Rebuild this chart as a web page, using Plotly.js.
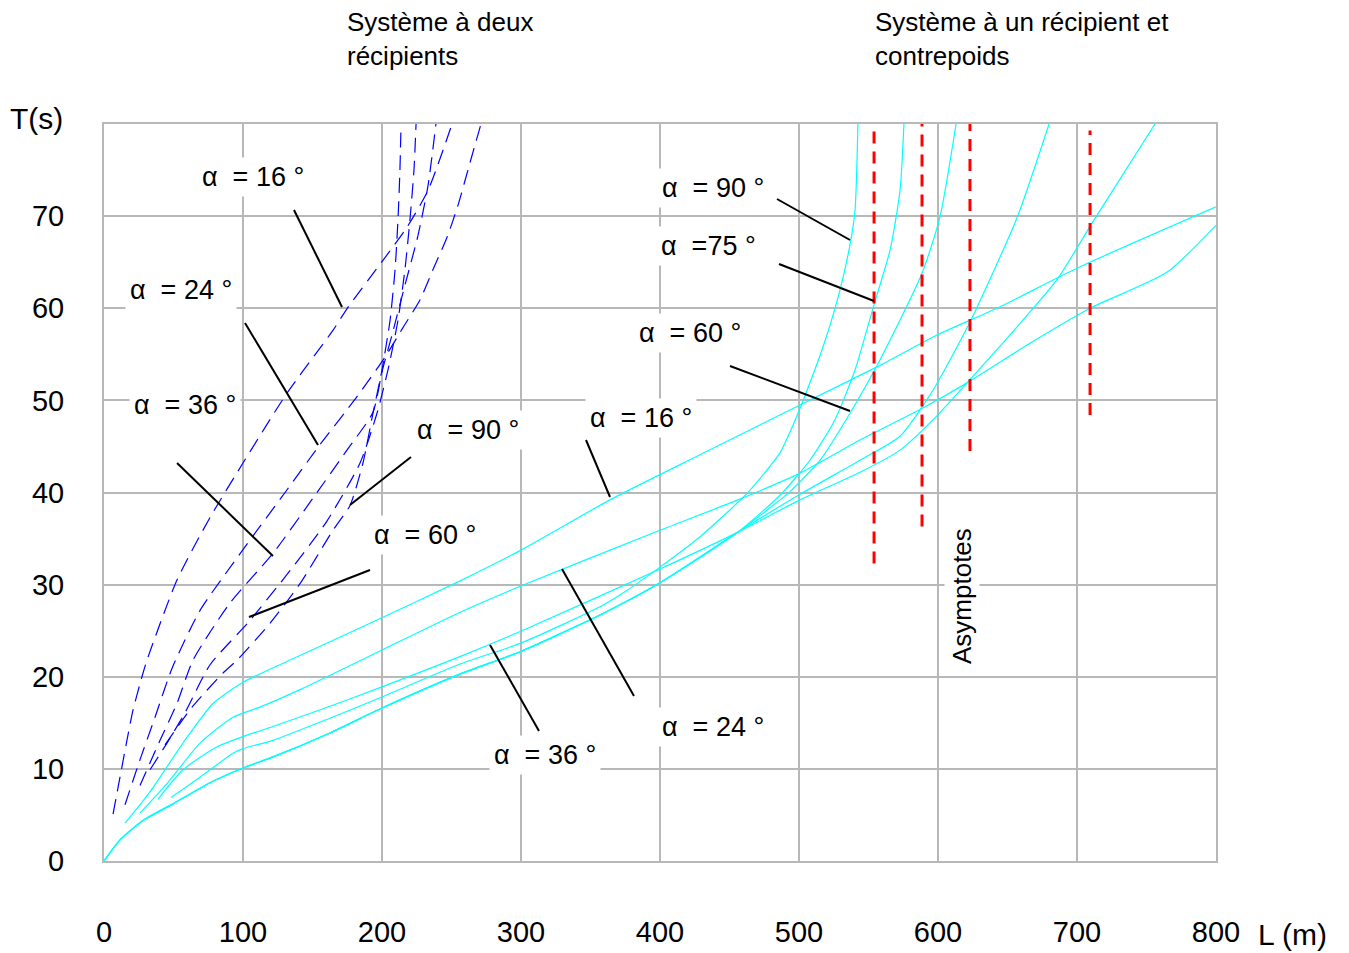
<!DOCTYPE html>
<html><head><meta charset="utf-8">
<script src="https://cdn.plot.ly/plotly-3.0.1.min.js"></script>
<style>body{margin:0;background:#fff}#chart{width:1349px;height:953px}</style>
</head><body><div id="chart"></div>
<script>
// ---------------- DATA ----------------
const xTicks = [0,100,200,300,400,500,600,700,800];
const xTickLabels = ['0','100','200','300','400','500','600','700','800'];
const yTicks = [0,10,20,30,40,50,60,70];
const yTickLabels = ['0','10','20','30','40','50','60','70'];

// Système à deux récipients (blue dashed), L (m) and T (s)
const deux16L = [6.5,11.5,16.5,20.9,27.3,30.9,52.5,76.3,100,131.7,164.7,175.5,200.7,218,233.1,250.4];
const deux16T = [5.1,9.1,13.1,16.4,20.0,21.8,30.5,37.3,43.2,50.8,57.6,60.1,65.2,68.8,72.8,80];
const deux24L = [15.1,25.9,36.7,48.9,69.1,100,131.7,155.4,182,202.2,215.1,227.3,236.7,246.8,254.7,263.3,271.2];
const deux24T = [6.1,11.0,15.6,20.9,27.2,33.8,40.3,45.2,50.4,54.7,57.9,60.9,64.2,67.7,71.2,75.8,80];
const deux36L = [25.9,40.3,52.5,64.0,90.6,121.6,150.4,174.8,193.5,200,207.2,216.5,225.9,233.1,238.8];
const deux36T = [8.2,13.1,17.1,21.8,28.0,33.4,39.4,44.6,48.7,53.1,57.1,62.5,67.9,73.3,80];
const deux60L = [33.1,45.3,58.3,76.3,104.3,131.7,160.4,184.2,196.4,204.3,211.5,216.5,220.1,223,224.5];
const deux60T = [9.9,12.8,16.1,21.3,26.0,31.1,36.9,43.2,48.6,53.3,58.7,64.2,69.6,75.0,80];
const deux90L = [43.9,63.3,85.6,95.7,119.4,141,164.7,177,186.3,193.5,200,205.8,209.4,211.5,212.9,213.7];
const deux90T = [12.6,16.7,20.4,21.8,25.8,30.1,35.9,38.6,43.2,48.6,53.3,58.7,64.2,69.6,75.0,80];

// Système à un récipient et contrepoids (cyan), L (m) and T (s)
const un16L = [15.1,33.1,56.8,78.4,100,141,200,254.7,300.7,364,428.8,500.7,558.3,599.3,642.4,702.2,800];
const un16T = [4.1,7.5,12.8,17.1,19.4,22.3,26.4,30.3,33.8,39.2,44.1,49.5,53.8,57.1,60.0,64.5,71.0];
const un24L = [25.9,45.3,69.1,92.8,112.2,141,200,254.7,300.7,400,456.1,500.7,543.9,587.1,620.9,666.2,709.4,764.7,800];
const un24T = [5.2,8.4,12.8,15.6,16.7,18.6,22.9,26.9,29.9,35.9,39.2,42.1,45.7,49.0,51.9,56.2,60.0,63.9,69.0];
const un36L = [38.8,56.8,81.3,100,121.6,162.6,200,254.7,300.7,400,456.1,500.7,543.9,572.7,597.8,620.9,651.8,685.6,711.5,756.1];
const un36T = [6.7,9.9,12.4,13.5,14.6,16.8,18.9,22.1,25.0,31.7,35.7,39.2,42.2,44.6,48.1,51.9,57.1,63.1,69.4,80];
const un45L = [0,11.5,28.1,49.6,76.3,100,121.6,162.6,200,254.7,300.7,356.8,400,456.1,500.7,543.9,572.7,596.4,623,656.8,679.9];
const un45T = [0,2.3,4.4,6.2,8.5,10.1,11.3,13.9,16.6,20.2,22.8,26.7,30.2,35.7,39.8,43.5,46.1,51.1,58.5,69.8,80];
const un60L = [0,11.5,28.1,49.6,76.3,100,121.6,162.6,200,254.7,300.7,356.8,400,456.1,493.5,515.1,536.7,558.3,588.5,601.4,613];
const un60T = [0,2.3,4.4,6.2,8.5,10.1,11.3,13.9,16.6,20.2,22.8,26.7,30.2,35.7,40.1,43.5,48.6,54.4,63.8,69.9,80];
const un75L = [0,11.5,28.1,49.6,76.3,100,121.6,162.6,200,254.7,300.7,356.8,400,456.1,486.3,507.9,525.9,540.3,554,565.5,572.7,575.5];
const un75T = [0,2.3,4.4,6.2,8.5,10.1,11.3,13.9,16.6,20.2,22.8,26.7,30.2,35.7,39.7,43.5,47.9,53.3,60.4,66.3,72.8,80];
const un90L = [48.2,69.1,92.8,100,121.6,162.6,200,254.7,300.7,356.8,373.4,400,428.8,462.6,486.3,495.7,510.1,520.1,529.5,536.7,540.3,542.4];
const un90T = [6.9,9.1,11.7,12.2,13.1,15.5,17.8,21.3,23.7,27.6,29.1,31.9,35.2,39.9,44.3,47.3,52.8,57.1,62.0,66.9,70.6,80];

// Asymptotes (red dashed)
const asymL = [554, 588.5, 623, 709.4];
const asymTop = [80, 80, 80, 79.3];
const asymBottom = [32.3, 36.3, 44.5, 48.4];

// ---------------- PLOT ----------------
const W = 1349, H = 953, ML = 104, MR = 133, MT = 124, MB = 92;
const PW = W - ML - MR, PH = H - MT - MB;
const px2x = px => (px - ML) / PW;        // paper x
const py2y = py => (H - MB - py) / PH;    // paper y

const traces = [];
const deuxSets = [[deux16L,deux16T],[deux24L,deux24T],[deux36L,deux36T],[deux60L,deux60T],[deux90L,deux90T]];
deuxSets.forEach(s => traces.push({x:s[0], y:s[1], mode:'lines', type:'scatter',
  line:{color:'#0000ff', width:1.2, dash:'15px,8px', shape:'spline', smoothing:0.6}, hoverinfo:'skip'}));
const unSets = [[un16L,un16T],[un24L,un24T],[un36L,un36T],[un45L,un45T],[un60L,un60T],[un75L,un75T],[un90L,un90T]];
unSets.forEach(s => traces.push({x:s[0], y:s[1], mode:'lines', type:'scatter',
  line:{color:'#00ffff', width:1.2, shape:'spline', smoothing:0.6}, hoverinfo:'skip'}));
asymL.forEach((l,i) => traces.push({x:[l,l], y:[asymBottom[i], asymTop[i]], mode:'lines', type:'scatter',
  line:{color:'#ff0000', width:3, dash:'12px,8px'}, hoverinfo:'skip'}));

const F = 'Liberation Sans, Arial, sans-serif';
const annotations = [];
function lab(text, cx, cy, size, extra) {
  annotations.push(Object.assign({text:text, xref:'paper', yref:'paper', x:px2x(cx), y:py2y(cy),
    xanchor:'center', yanchor:'middle', showarrow:false, font:{family:F, size:size, color:'#000'},
    bgcolor:'#ffffff', borderpad:4}, extra||{}));
}
const plain = {xanchor:'left', align:'left', bgcolor:'rgba(0,0,0,0)', borderpad:0};
// alpha labels (deux récipients)
lab('α  = 16 °', 253, 177, 27);
lab('α  = 24 °', 181, 290, 27);
lab('α  = 36 °', 185, 405, 27);
lab('α  = 90 °', 468, 430, 27);
lab('α  = 60 °', 425, 535, 27);
// alpha labels (un récipient)
lab('α  = 90 °', 713, 188, 27);
lab('α  =75 °', 709, 246, 27);
lab('α  = 60 °', 690, 333, 27);
lab('α  = 16 °', 641, 418, 27);
lab('α  = 24 °', 713, 727, 27);
lab('α  = 36 °', 545, 755, 27);
// other texts
lab('Système à deux<br>récipients', 346, 39, 26, plain);
lab('Système à un récipient et<br>contrepoids', 874, 39, 26, plain);
lab('T(s)', 9, 119, 30, plain);
lab('L (m)', 1257, 934, 30, plain);
lab('Asymptotes', 962, 596, 26, {textangle:-90, borderpad:2});

const pointers = [
  [294,210,342,307],[245,323,318,445],[177,463,273,556],[411,457,350,505],[370,570,249,617],
  [586,440,610,497],[634,696,562,569],[539,731,490,645],[777,199,850,240],[779,264,874,301],[730,366,850,411]
];
const shapes = pointers.map(p => ({type:'line', xref:'paper', yref:'paper',
  x0:px2x(p[0]), y0:py2y(p[1]), x1:px2x(p[2]), y1:py2y(p[3]), line:{color:'#000', width:2}}));

const axisCommon = {showgrid:true, gridcolor:'#b8b8b8', gridwidth:2, zeroline:false,
  showline:true, linecolor:'#b8b8b8', linewidth:2, mirror:true, ticks:'',
  tickfont:{family:F, size:29, color:'#000'}};

const layout = {
  width:W, height:H, margin:{l:ML, r:MR, t:MT, b:MB}, showlegend:false,
  paper_bgcolor:'#fff', plot_bgcolor:'#fff',
  xaxis:Object.assign({}, axisCommon, {range:[0,800], tickvals:xTicks, ticktext:xTickLabels, ticklabelstandoff:44}),
  yaxis:Object.assign({}, axisCommon, {range:[0,80], tickvals:yTicks, ticktext:yTickLabels, ticklabelstandoff:32}),
  annotations:annotations, shapes:shapes
};
Plotly.newPlot('chart', traces, layout, {staticPlot:true, displayModeBar:false});
</script>
</body></html>
